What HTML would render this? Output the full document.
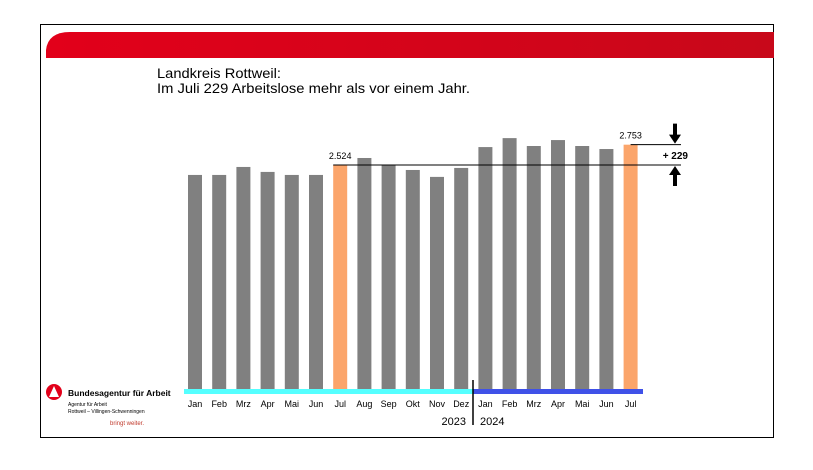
<!DOCTYPE html>
<html><head><meta charset="utf-8"><style>
body{margin:0;background:#fff;width:813px;height:465px;overflow:hidden;font-family:"Liberation Sans",sans-serif}
</style></head><body>
<svg width="813" height="465">
<defs><linearGradient id="rg" x1="0" x2="1"><stop offset="0" stop-color="#e2001a"/><stop offset="0.7" stop-color="#d0051a"/><stop offset="1" stop-color="#c8081a"/></linearGradient></defs>
<rect x="40.5" y="24.5" width="733" height="413" fill="#fff" stroke="#000"/>
<path d="M46,58 L46,50 Q48,32 70,32 L774,32 L774,58 Z" fill="url(#rg)"/>
<text x="157" y="78" font-size="14" textLength="124" lengthAdjust="spacingAndGlyphs">Landkreis Rottweil:</text>
<text x="157" y="93" font-size="14" textLength="313" lengthAdjust="spacingAndGlyphs">Im Juli 229 Arbeitslose mehr als vor einem Jahr.</text>
<g id="bars"></g>
<rect x="184" y="389" width="289" height="5" fill="#55ffff"/>
<rect x="473" y="389" width="170" height="5" fill="#3f51e8"/>
<line x1="473" y1="380" x2="473" y2="425" stroke="#000" stroke-width="1.5"/>
<text x="466" y="425" font-size="11" text-anchor="end">2023</text>
<text x="480" y="425" font-size="11">2024</text>
<g id="lines"></g>
<g>
<circle cx="54" cy="392" r="8" fill="#e2001a"/>
<path d="M49,397 L54,386 L59,397 Z" fill="#fff"/>
<text x="68" y="396" font-size="8.5" font-weight="bold">Bundesagentur für Arbeit</text>
<text x="68" y="406" font-size="5">Agentur für Arbeit</text>
<text x="68" y="413" font-size="5">Rottweil – Villingen-Schwenningen</text>
<text x="110" y="425" font-size="6" fill="#c0392b">bringt weiter.</text>
</g>
</svg>
<script>
const months=["Jan","Feb","Mrz","Apr","Mai","Jun","Jul","Aug","Sep","Okt","Nov","Dez","Jan","Feb","Mrz","Apr","Mai","Jun","Jul"];
const values=[2412,2412,2502,2446,2412,2412,2524,2603,2525,2468,2390,2491,2726,2827,2738,2805,2738,2704,2753];
const highlight=[6,18];
const NS="http://www.w3.org/2000/svg";
const base=389, k=224/2524;
const x=i=>188+i*24.2;
const y=v=>base-v*k;
const g=document.getElementById('bars');
function mk(t,a,p){const e=document.createElementNS(NS,t);for(const n in a)e.setAttribute(n,a[n]);(p||g).appendChild(e);return e;}
values.forEach((v,i)=>{
 const r=mk('rect',{x:x(i),y:y(v),width:14,height:base-y(v),fill:highlight.includes(i)?'#fba56b':'#808080'});
 
 
 const t=mk('text',{x:x(i)+7,y:407,'font-size':9,'text-anchor':'middle'});
 t.textContent=months[i];
 
 
});
const L=document.getElementById('lines');
const fmt=v=>String(v).replace(/\B(?=(\d{3})+$)/,'.');
highlight.forEach(i=>{
 const t=mk('text',{x:x(i)+7,y:y(values[i])-6,'font-size':9,'text-anchor':'middle'},L);
 t.textContent=fmt(values[i]);
 
 
});
const y1=y(values[6]),y2=y(values[18]);
let l=mk('line',{x1:x(6),y1:y1,x2:681,y2:y1,stroke:'#000'},L);


l=mk('line',{x1:x(18)+7,y1:y2,x2:681,y2:y2,stroke:'#000'},L);


let a=mk('path',{d:`M673,${y2-21}h4v11h4l-6,9l-6,-9h4z`,fill:'#000'},L);


a=mk('path',{d:`M673,${y1+21}h4v-11h4l-6,-9l-6,9h4z`,fill:'#000'},L);


const d=mk('text',{x:688,y:(y1+y2)/2+4,'font-size':10,'font-weight':'bold','text-anchor':'end'},L);
d.textContent='+ '+(values[18]-values[6]);


</script>
</body></html>
